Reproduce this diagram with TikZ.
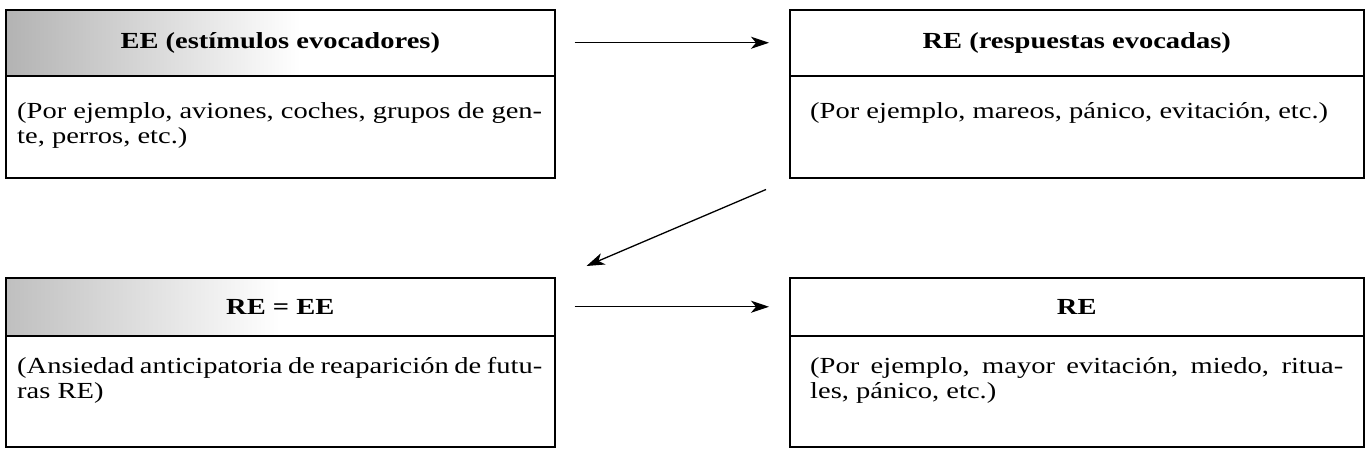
\documentclass[tikz,border=0pt]{standalone}
\usepackage{fontspec}
\setmainfont{Liberation Serif}[FakeStretch=1.24]
\usetikzlibrary{arrows.meta,calc}
\begin{document}
\begin{tikzpicture}[x=1pt,y=-1pt,
  box/.style={draw, line width=1.5pt, rectangle, inner sep=0pt, anchor=north west},
  headtxt/.style={font=\fontsize{23}{25.5}\selectfont\bfseries, inner sep=0pt},
  bodytxt/.style={font=\fontsize{23}{25.5}\selectfont, inner sep=0pt, anchor=base west},
  arr/.style={line width=1.3pt, -{Stealth[length=18pt,width=12pt,inset=5pt]}}]
\useasboundingbox (0,0) rectangle (1367,461);
% faded halftone on the left headers
\shade[left color=gray!60, right color=white] (5,9) rectangle (300,75);
\shade[left color=gray!50, right color=white] (5,277) rectangle (280,335);
% boxes
\node[box, minimum width=549pt, minimum height=66pt] (h1) at (5,9) {};
\node[box, minimum width=549pt, minimum height=102pt] (b1) at (5,75) {};
\node[box, minimum width=574pt, minimum height=66pt] (h2) at (789,9) {};
\node[box, minimum width=574pt, minimum height=102pt] (b2) at (789,75) {};
\node[box, minimum width=549pt, minimum height=58pt] (h3) at (5,277) {};
\node[box, minimum width=549pt, minimum height=111pt] (b3) at (5,335) {};
\node[box, minimum width=574pt, minimum height=58pt] (h4) at (789,277) {};
\node[box, minimum width=574pt, minimum height=111pt] (b4) at (789,335) {};
% headers
\node[headtxt] (t1) at (h1.center) {EE (estímulos evocadores)};
\node[headtxt] (t2) at (h2.center) {RE (respuestas evocadas)};
\node[headtxt] (t3) at (h3.center) {RE = EE};
\node[headtxt] (t4) at (h4.center) {RE};
% body texts
\node[bodytxt] (p1a) at ($(b1.north west)+(12,43)$) {\makebox[525pt][s]{(Por ejemplo, aviones, coches, grupos de gen-}};
\node[bodytxt] (p1b) at ($(p1a.base west)+(0,25.5)$) {te, perros, etc.)};
\node[bodytxt] (p2) at ($(b2.north west)+(21,43)$) {(Por ejemplo, mareos, pánico, evitación, etc.)};
\node[bodytxt] (p3a) at ($(b3.north west)+(12,38)$) {\makebox[525pt][s]{(Ansiedad anticipatoria de reaparición de futu-}};
\node[bodytxt] (p3b) at ($(p3a.base west)+(0,25.5)$) {ras RE)};
\node[bodytxt] (p4a) at ($(b4.north west)+(21,38)$) {\makebox[533pt][s]{(Por ejemplo, mayor evitación, miedo, ritua-}};
\node[bodytxt] (p4b) at ($(p4a.base west)+(0,25.5)$) {les, pánico, etc.)};
% connectors
\draw[arr, shorten <=19pt, shorten >=20pt] (h1) -- (h2);
\draw[arr, shorten <=19pt, shorten >=20pt] (h3) -- (h4);
\coordinate (d1) at ($(b2.south west)+(-23,11)$);
\coordinate (d2) at ($(h3.north east)+(31,-11)$);
\draw[arr] (d1) -- (d2);
\end{tikzpicture}
\end{document}
